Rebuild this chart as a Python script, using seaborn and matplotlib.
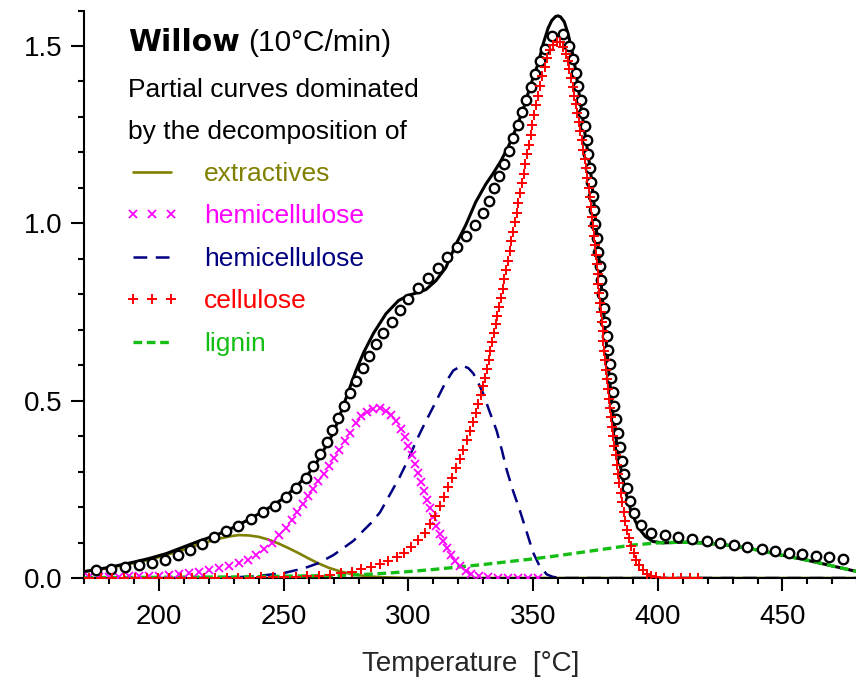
import matplotlib
matplotlib.use("Agg")
import matplotlib.pyplot as plt
from matplotlib.lines import Line2D
from matplotlib.ticker import MultipleLocator, FormatStrFormatter
from matplotlib import font_manager
import seaborn as sns

# ---------------- data: DTG of willow at 10 °C/min ----------------
# model sum curve
temp_sum = [170, 180, 190, 196, 203, 210, 216, 223, 230, 236, 243, 250, 256, 260, 263, 266,
            270, 273, 276, 279, 282, 286, 291, 296, 300, 303, 307, 311, 315, 319, 323, 327,
            331, 334, 337, 340, 343, 346, 349, 352, 354, 356, 357.5, 359, 360, 361, 362.5,
            364, 365.5, 367, 368.5, 370, 371.5, 373, 374.5, 376, 377.5, 379, 380.5, 382,
            383.5, 385, 387, 389, 391, 393, 395, 398, 402, 410, 420, 430, 440, 450, 460,
            470, 480]
dtg_sum = [0.018, 0.030, 0.045, 0.055, 0.069, 0.088, 0.104, 0.121, 0.143, 0.165, 0.193,
           0.225, 0.265, 0.295, 0.323, 0.360, 0.410, 0.468, 0.527, 0.585, 0.635, 0.690,
           0.745, 0.782, 0.797, 0.803, 0.813, 0.838, 0.875, 0.940, 0.995, 1.060, 1.110,
           1.141, 1.175, 1.215, 1.265, 1.320, 1.390, 1.450, 1.505, 1.550, 1.572, 1.583,
           1.585, 1.582, 1.568, 1.535, 1.490, 1.435, 1.363, 1.290, 1.220, 1.150, 1.050,
           0.935, 0.815, 0.690, 0.570, 0.465, 0.380, 0.315, 0.245, 0.195, 0.160, 0.135,
           0.117, 0.103, 0.099, 0.101, 0.098, 0.091, 0.079, 0.064, 0.050, 0.034, 0.018]

# measured points
temp_meas = [174.9, 180.6, 186.2, 191.9, 197.3, 202.5, 207.6, 212.6, 217.4, 222.1, 227.0,
             231.7, 236.8, 241.7, 246.4, 250.8, 255.1, 258.8, 261.7, 264.7, 267.5, 269.5,
             271.8, 274.3, 276.6, 279.0, 281.7, 284.3, 286.9, 289.9, 293.3, 296.6, 300.0,
             303.7, 307.7, 311.7, 315.6, 319.4, 323.1, 326.7, 329.8, 332.4, 334.4, 336.4,
             338.4, 340.4, 342.1, 343.8, 345.6, 347.2, 349.0, 350.8, 352.8, 354.9, 357.4,
             361.8, 364.4, 366.0, 367.2, 368.1, 369.1, 370.0, 370.7, 371.5, 372.1, 372.8,
             373.4, 373.9, 374.4, 375.0, 375.5, 376.1, 376.7, 377.3, 377.8, 378.3, 378.9,
             379.5, 380.1, 380.7, 381.3, 381.9, 382.5, 383.2, 383.9, 384.7, 385.6, 386.5,
             387.6, 388.9, 390.6, 393.2, 397.4, 402.9, 408.3, 413.8, 419.6, 424.9, 430.5,
             435.9, 441.6, 447.0, 452.6, 457.9, 463.4, 468.8, 474.4]
dtg_meas = [0.022, 0.026, 0.031, 0.036, 0.043, 0.052, 0.064, 0.079, 0.097, 0.115, 0.132,
            0.148, 0.167, 0.185, 0.204, 0.227, 0.253, 0.283, 0.316, 0.349, 0.383, 0.416,
            0.450, 0.486, 0.522, 0.556, 0.591, 0.626, 0.659, 0.692, 0.723, 0.756, 0.787,
            0.817, 0.845, 0.875, 0.906, 0.934, 0.964, 0.995, 1.028, 1.063, 1.099, 1.132,
            1.167, 1.204, 1.240, 1.276, 1.313, 1.349, 1.385, 1.422, 1.457, 1.492, 1.527,
            1.533, 1.500, 1.462, 1.425, 1.387, 1.349, 1.311, 1.273, 1.235, 1.195, 1.155,
            1.116, 1.077, 1.037, 0.998, 0.958, 0.918, 0.879, 0.840, 0.800, 0.762, 0.722,
            0.682, 0.643, 0.604, 0.564, 0.525, 0.485, 0.447, 0.408, 0.370, 0.331, 0.292,
            0.255, 0.218, 0.183, 0.150, 0.127, 0.120, 0.116, 0.110, 0.103, 0.098, 0.093,
            0.088, 0.082, 0.076, 0.071, 0.067, 0.062, 0.058, 0.053]

# partial curve: extractives
temp_extr = [170, 180, 190, 196, 203, 210, 216, 223, 228, 232, 236, 240, 244, 248, 252, 256,
             260, 264, 268, 272, 276, 280, 285, 290, 295, 300, 320, 360, 400, 480]
dtg_extr = [0.018, 0.029, 0.042, 0.051, 0.065, 0.080, 0.095, 0.109, 0.117, 0.121, 0.120,
            0.116, 0.108, 0.097, 0.084, 0.070, 0.055, 0.041, 0.029, 0.020, 0.013, 0.008,
            0.004, 0.002, 0.001, 0.0, 0.0, 0.0, 0.0, 0.0]

# partial curve: hemicellulose (first)
temp_hemi1 = [172, 176, 180, 184, 188, 192, 196, 200, 204, 208, 212, 216, 220, 224, 228, 232,
              235.5, 238.8, 242.2, 245.4, 248.2, 250.8, 253.2, 255.4, 257.6, 259.7, 261.8,
              263.9, 266.0, 268.1, 270.2, 272.3, 274.4, 276.6, 278.8, 281.1, 283.5, 286.0,
              288.5, 291.0, 293.2, 295.2, 297.0, 298.6, 300.0, 301.3, 302.6, 303.9, 305.1,
              306.3, 307.5, 308.7, 309.9, 311.2, 312.6, 314.0, 315.5, 317.1, 318.8, 320.7,
              322.9, 325.3, 328.3, 332.0, 336.0, 340.0, 344.0, 348.0, 352.0]
dtg_hemi1 = [0.003, 0.003, 0.004, 0.004, 0.005, 0.005, 0.006, 0.007, 0.008, 0.010, 0.013,
             0.017, 0.022, 0.028, 0.034, 0.041, 0.050, 0.065, 0.082, 0.100, 0.122, 0.142,
             0.163, 0.186, 0.208, 0.230, 0.252, 0.273, 0.294, 0.316, 0.338, 0.360, 0.386,
             0.410, 0.437, 0.456, 0.469, 0.477, 0.478, 0.472, 0.460, 0.443, 0.420, 0.397,
             0.372, 0.348, 0.322, 0.297, 0.272, 0.246, 0.220, 0.196, 0.172, 0.147, 0.124,
             0.104, 0.085, 0.066, 0.048, 0.033, 0.021, 0.012, 0.006, 0.002, 0.001, 0.0,
             0.0, 0.0, 0.0]

# partial curve: hemicellulose (second)
temp_hemi2 = [170, 200, 220, 231, 240, 250, 258, 264, 270, 274, 278, 281, 285, 288.6, 292,
              296.6, 300, 303.3, 306.5, 310, 314.7, 318, 321.4, 324, 326, 328, 330, 332.5,
              335.4, 337.5, 339.4, 342, 344.7, 347.5, 350, 352.5, 355.5, 358, 362, 400, 480]
dtg_hemi2 = [0.0, 0.0, 0.001, 0.002, 0.006, 0.014, 0.027, 0.042, 0.065, 0.085, 0.105, 0.127,
             0.155, 0.185, 0.228, 0.286, 0.335, 0.389, 0.435, 0.483, 0.549, 0.585, 0.599,
             0.592, 0.577, 0.550, 0.520, 0.470, 0.415, 0.360, 0.305, 0.245, 0.190, 0.128,
             0.072, 0.035, 0.010, 0.003, 0.0, 0.0, 0.0]

# partial curve: cellulose
temp_cell = [172, 176.6, 181.2, 185.8, 190.4, 195, 199.6, 204.2, 208.8, 213.4, 218, 222.6,
             227.2, 231.8, 236.4, 241, 245.6, 250.2, 254.8, 259.4, 264, 268.6, 273, 277.2,
             281, 285, 288.7, 292, 295.3, 298.3, 301.2, 304, 306.5, 308.7, 310.7, 312.6,
             314.3, 316, 317.6, 319.1, 320.6, 322, 323.3, 324.6, 325.8, 327, 328.1, 329.1,
             330.1, 330.8, 331.5, 332.2, 332.9, 333.6, 334.3, 335, 335.7, 336.4, 337.1,
             337.8, 338.5, 339.2, 339.9, 340.6, 341.3, 342, 342.7, 343.4, 344.1, 344.8,
             345.5, 346.2, 346.9, 347.6, 348.3, 349, 349.7, 350.5, 351.3, 352.1, 352.9,
             353.7, 354.6, 355.6, 356.7, 358, 359.4, 360.8, 362, 363, 363.8, 364.5, 365.2,
             365.9, 366.5, 367.1, 367.7, 368.3, 368.9, 369.5, 370.1, 370.7, 371.3, 371.8,
             372.3, 372.8, 373.2, 373.6, 374, 374.4, 374.8, 375.2, 375.5, 375.9, 376.2,
             376.6, 376.9, 377.2, 377.6, 377.9, 378.2, 378.5, 378.9, 379.2, 379.5, 379.9,
             380.3, 380.7, 381.2, 381.6, 382.1, 382.6, 383.1, 383.6, 384.1, 384.6, 385.1,
             385.7, 386.3, 386.9, 387.6, 388.4, 389.3, 390.3, 391.4, 392.6, 394, 395.5,
             397.2, 399.3, 402.5, 406, 409.5, 413, 416]
dtg_cell = [0.0, 0.0, 0.0, 0.0, 0.0, 0.0, 0.0, 0.0, 0.0, 0.0, 0.0, 0.0,
            0.001, 0.001, 0.001, 0.002, 0.002, 0.003, 0.004, 0.005, 0.007, 0.009, 0.013, 0.018,
            0.024, 0.031, 0.039, 0.048, 0.058, 0.070, 0.086, 0.106, 0.128, 0.151, 0.176, 0.202,
            0.228, 0.256, 0.283, 0.310, 0.336, 0.362, 0.388, 0.414, 0.440, 0.465, 0.490, 0.515,
            0.540, 0.565, 0.590, 0.615, 0.640, 0.665, 0.690, 0.715, 0.740, 0.765, 0.790,
            0.815, 0.842, 0.868, 0.895, 0.922, 0.950, 0.976, 1.003, 1.030, 1.057, 1.085,
            1.113, 1.140, 1.168, 1.195, 1.222, 1.250, 1.277, 1.305, 1.333, 1.360, 1.388,
            1.415, 1.442, 1.467, 1.488, 1.503, 1.512, 1.512, 1.497, 1.478, 1.457, 1.434, 1.410,
            1.385, 1.360, 1.335, 1.310, 1.285, 1.260, 1.234, 1.208, 1.182, 1.155, 1.128,
            1.100, 1.073, 1.046, 1.019, 0.992, 0.965, 0.938, 0.911, 0.884, 0.857, 0.830,
            0.803, 0.776, 0.749, 0.722, 0.695, 0.668, 0.641, 0.614, 0.587, 0.560, 0.533,
            0.506, 0.480, 0.453, 0.427, 0.400, 0.373, 0.347, 0.320, 0.293, 0.267, 0.240,
            0.213, 0.187, 0.161, 0.136, 0.112, 0.090, 0.070, 0.052, 0.036, 0.022, 0.012,
            0.005, 0.002, 0.0, 0.0, 0.0, 0.0, 0.0]

# partial curve: lignin
temp_lign = [170, 200, 230, 250, 270, 280, 290, 300, 310, 320, 330, 340, 350, 360, 370, 380,
             390, 400, 410, 420, 430, 440, 450, 460, 470, 480]
dtg_lign = [0.001, 0.002, 0.003, 0.005, 0.007, 0.009, 0.013, 0.018, 0.024, 0.031, 0.038,
            0.046, 0.054, 0.063, 0.073, 0.083, 0.093, 0.099, 0.101, 0.098, 0.091, 0.079,
            0.064, 0.050, 0.034, 0.018]

legend_labels = ["extractives", "hemicellulose", "hemicellulose", "cellulose", "lignin"]
x_ticks = [200, 250, 300, 350, 400, 450]
y_ticks = [0.0, 0.5, 1.0, 1.5]

# ---------------- style ----------------
OLIVE = "#808000"
MAGENTA = "#FF00FF"
NAVY = "#000080"
RED = "#FF0000"
GREEN = "#14BE14"

sns.set_theme(style="ticks")
names = {f.name for f in font_manager.fontManager.ttflist}
base = next((n for n in ["Liberation Sans", "Arial", "DejaVu Sans"] if n in names), "DejaVu Sans")
plt.rcParams["font.family"] = [base, "DejaVu Sans"]
plt.rcParams["axes.unicode_minus"] = False

fig = plt.figure(figsize=(8.56, 6.91), dpi=100)
ax = fig.add_axes([84.2 / 856, 113 / 691, 773.1 / 856, 567.5 / 691])

common = dict(ax=ax, estimator=None, sort=False, legend=False)

sns.lineplot(x=temp_extr, y=dtg_extr, color=OLIVE, linewidth=1.9, zorder=2, **common)
sns.lineplot(x=temp_hemi2, y=dtg_hemi2, color=NAVY, linewidth=1.8, zorder=2, **common)
ax.lines[-1].set_dashes([5.5, 3.4])
sns.lineplot(x=temp_sum, y=dtg_sum, color="black", linewidth=2.2, zorder=3, **common)
sns.lineplot(x=temp_lign, y=dtg_lign, color=GREEN, linewidth=2.4, zorder=4, **common)
ax.lines[-1].set_dashes([2.6, 1.4])
sns.lineplot(x=temp_hemi1, y=dtg_hemi1, color=MAGENTA, linestyle="none", marker="x",
             markersize=6, markeredgewidth=1.3, markeredgecolor=MAGENTA, zorder=4, **common)
sns.lineplot(x=temp_meas, y=dtg_meas, color="black", linestyle="none", marker="o",
             markersize=6.8, markeredgewidth=1.7, markeredgecolor="black",
             markerfacecolor="white", zorder=5, **common)
sns.lineplot(x=temp_cell, y=dtg_cell, color=RED, linestyle="none", marker="+",
             markersize=7, markeredgewidth=1.4, markeredgecolor=RED, zorder=6, **common)

ax.set_xlim(170, 480)
ax.set_ylim(0, 1.6)
ax.set_xticks(x_ticks)
ax.set_yticks(y_ticks)
ax.xaxis.set_minor_locator(MultipleLocator(10))
ax.yaxis.set_minor_locator(MultipleLocator(0.1))
ax.yaxis.set_major_formatter(FormatStrFormatter("%.1f"))
ax.tick_params(which="major", direction="out", length=9.5, width=1.5, colors="black",
               labelsize=20)
ax.tick_params(which="minor", direction="out", length=4.3, width=1.5, colors="black")
ax.tick_params(axis="y", which="major", pad=6)
ax.tick_params(axis="x", which="major", pad=9)
for side in ["top", "right"]:
    ax.spines[side].set_visible(False)
for side in ["left", "bottom"]:
    ax.spines[side].set_linewidth(1.5)
    ax.spines[side].set_color("black")
ax.set_xlabel("Temperature  [°C]", fontsize=20, labelpad=15)
ax.set_ylabel("")

# header block
fs = 19
fs_title = 21.5
t1 = fig.text(128 / 856, 1 - 51 / 691, "Willow", fontsize=fs_title, fontweight="bold",
              family=["DejaVu Sans"], ha="left", va="baseline", color="black")
fig.canvas.draw()
bb = t1.get_window_extent()
fig.text((bb.x1 + 8) / 856, 1 - 51 / 691, "(10°C/min)", fontsize=fs_title,
         ha="left", va="baseline", color="black")
fig.text(128 / 856, 1 - 97 / 691, "Partial curves dominated", fontsize=fs,
         ha="left", va="baseline", color="black")
fig.text(128 / 856, 1 - 139 / 691, "by the decomposition of", fontsize=fs,
         ha="left", va="baseline", color="black")

handles = [
    Line2D([0], [0], color=OLIVE, linewidth=1.9),
    Line2D([0], [0], color=MAGENTA, linestyle="none", marker="x", markersize=6,
           markeredgewidth=1.3),
    Line2D([0], [0], color=NAVY, linewidth=1.8, dashes=[5.5, 3.4]),
    Line2D([0], [0], color=RED, linestyle="none", marker="+", markersize=7,
           markeredgewidth=1.4),
    Line2D([0], [0], color=GREEN, linewidth=2.4, dashes=[2.6, 1.4]),
]
leg = ax.legend(handles, legend_labels, loc="upper left",
                bbox_to_anchor=(125 / 856, 1 - 162 / 691), bbox_transform=fig.transFigure,
                frameon=False, fontsize=fs, numpoints=3, handlelength=2.05,
                handletextpad=0.95, labelspacing=0.70, borderpad=0, borderaxespad=0,
                labelcolor=[OLIVE, MAGENTA, NAVY, RED, GREEN])

fig.savefig("out.png", dpi=100, facecolor="white")
